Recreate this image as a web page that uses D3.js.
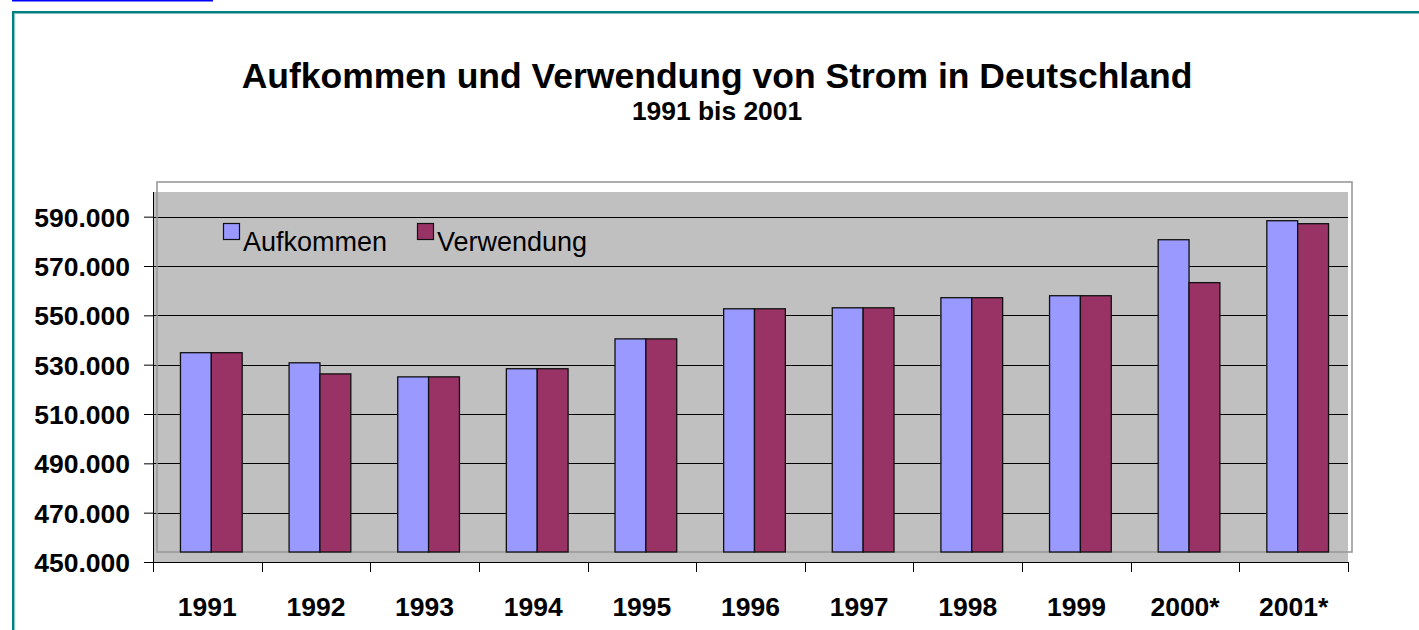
<!DOCTYPE html>
<html>
<head>
<meta charset="utf-8">
<script src="https://cdn.jsdelivr.net/npm/d3@7"></script>
<style>
  html, body { margin: 0; padding: 0; background: #fff; }
  svg { display: block; font-family: "Liberation Sans", Arial, sans-serif; }
</style>
</head>
<body>
<svg id="chart" width="1419" height="630"></svg>
<script>
// Stromaufkommen und -verwendung in GWh
const years = ["1991", "1992", "1993", "1994", "1995", "1996", "1997", "1998", "1999", "2000*", "2001*"];
const seriesNames = ["Aufkommen", "Verwendung"];
const aufkommen  = [530800, 526700, 521000, 524300, 536400, 548600, 549000, 553100, 553900, 576600, 584300];
const verwendung = [530800, 522200, 521000, 524300, 536400, 548600, 549000, 553100, 553900, 559200, 583100];
const yTicks = [450000, 470000, 490000, 510000, 530000, 550000, 570000, 590000];
const colors = ["#9999FF", "#993366"];

const titleText = "Aufkommen und Verwendung von Strom in Deutschland";
const subtitleText = "1991 bis 2001";

const svg = d3.select("#chart");
const de = d3.formatLocale({ decimal: ",", thousands: ".", grouping: [3], currency: ["", " €"] });
const fmt = de.format(",.0f");

// frame of the embedded sheet
svg.append("rect").attr("x", 12).attr("y", 0).attr("width", 201).attr("height", 1.5).attr("fill", "#0000FF");
svg.append("rect").attr("x", 12).attr("y", 11).attr("width", 1407).attr("height", 2.5).attr("fill", "#008080");
svg.append("rect").attr("x", 12).attr("y", 11).attr("width", 2.2).attr("height", 619).attr("fill", "#008080");
svg.append("rect").attr("x", 14.2).attr("y", 13.5).attr("width", 1).attr("height", 616.5).attr("fill", "#7fbfbf");

// titles
svg.append("text").attr("x", 717).attr("y", 88).attr("text-anchor", "middle")
  .attr("font-size", 35.5).attr("font-weight", "bold").text(titleText);
svg.append("text").attr("x", 717).attr("y", 120).attr("text-anchor", "middle")
  .attr("font-size", 26.4).attr("font-weight", "bold").text(subtitleText);

// scales
const x0 = d3.scaleBand().domain(years).range([153, 1348]).paddingInner(0).paddingOuter(0);
const x1 = d3.scaleBand().domain(seriesNames).range([0, x0.bandwidth()]).paddingInner(0).paddingOuter(0.76);
const y = d3.scaleLinear().domain([450000, 600000]).range([562, 192]);

// depth offset of the column layer
const dx = 4, dy = -10;

// wall
svg.append("rect")
  .attr("x", x0.range()[0]).attr("y", y(600000))
  .attr("width", x0.range()[1] - x0.range()[0]).attr("height", y(450000) - y(600000))
  .attr("fill", "#C0C0C0");

// gridlines
svg.append("g").selectAll("line").data(yTicks.slice(1)).join("line")
  .attr("x1", x0.range()[0]).attr("x2", x0.range()[1])
  .attr("y1", d => Math.round(y(d)) + 0.5).attr("y2", d => Math.round(y(d)) + 0.5)
  .attr("stroke", "#000").attr("stroke-width", 1);

// plot-area outline (shifted by depth)
svg.append("rect")
  .attr("x", x0.range()[0] + dx).attr("y", y(600000) + dy)
  .attr("width", x0.range()[1] - x0.range()[0]).attr("height", y(450000) - y(600000))
  .attr("fill", "none").attr("stroke", "#9a9a9a").attr("stroke-width", 1.6);

// columns
const data = years.map((yr, i) => ({ year: yr, values: [aufkommen[i], verwendung[i]] }));
const bars = svg.append("g").attr("transform", `translate(${dx},${dy})`);
bars.selectAll("g").data(data).join("g")
  .attr("transform", d => `translate(${x0(d.year)},0)`)
  .selectAll("rect")
  .data(d => d.values.map((v, k) => ({ key: seriesNames[k], value: v, k })))
  .join("rect")
  .attr("x", d => x1(d.key))
  .attr("y", d => y(d.value))
  .attr("width", x1.bandwidth())
  .attr("height", d => y(450000) - y(d.value))
  .attr("fill", d => colors[d.k])
  .attr("stroke", "#111")
  .attr("stroke-width", 1.3);

// y axis
const yAxis = svg.append("g").attr("transform", `translate(${x0.range()[0]},0)`)
  .call(d3.axisLeft(y).tickValues(yTicks).tickSize(9).tickPadding(14).tickFormat(fmt));
yAxis.select(".domain").remove();
yAxis.selectAll(".tick line").attr("stroke", "#000");
yAxis.selectAll(".tick text").attr("font-size", 26.5).attr("font-weight", "bold")
  .attr("fill", "#000").attr("font-family", "'Liberation Sans', Arial, sans-serif").attr("dy", "0.36em");
svg.append("line").attr("x1", 153.5).attr("x2", 153.5).attr("y1", y(600000)).attr("y2", y(450000))
  .attr("stroke", "#000");

// x axis
const xg = svg.append("g");
xg.append("line").attr("x1", x0.range()[0]).attr("x2", x0.range()[1])
  .attr("y1", Math.round(y(450000)) + 0.5).attr("y2", Math.round(y(450000)) + 0.5).attr("stroke", "#000");
const bounds = years.map(d => x0(d)).concat([x0.range()[1]]);
xg.selectAll("line.tick").data(bounds).join("line").attr("class", "tick")
  .attr("x1", d => Math.round(d) + 0.5).attr("x2", d => Math.round(d) + 0.5)
  .attr("y1", y(450000)).attr("y2", y(450000) + 10).attr("stroke", "#000");
xg.selectAll("text").data(years).join("text")
  .attr("x", d => x0(d) + x0.bandwidth() / 2).attr("y", 616)
  .attr("text-anchor", "middle").attr("font-size", 26.5).attr("font-weight", "bold")
  .text(d => d);

// legend
const legendPos = [223, 417];
const lg = svg.append("g");
seriesNames.forEach((s, i) => {
  lg.append("rect").attr("x", legendPos[i] + 0.5).attr("y", 223.5).attr("width", 16).attr("height", 16)
    .attr("fill", colors[i]).attr("stroke", "#111").attr("stroke-width", 1.2);
  lg.append("text").attr("x", legendPos[i] + 20).attr("y", 251).attr("font-size", 27).text(s);
});
</script>
</body>
</html>
